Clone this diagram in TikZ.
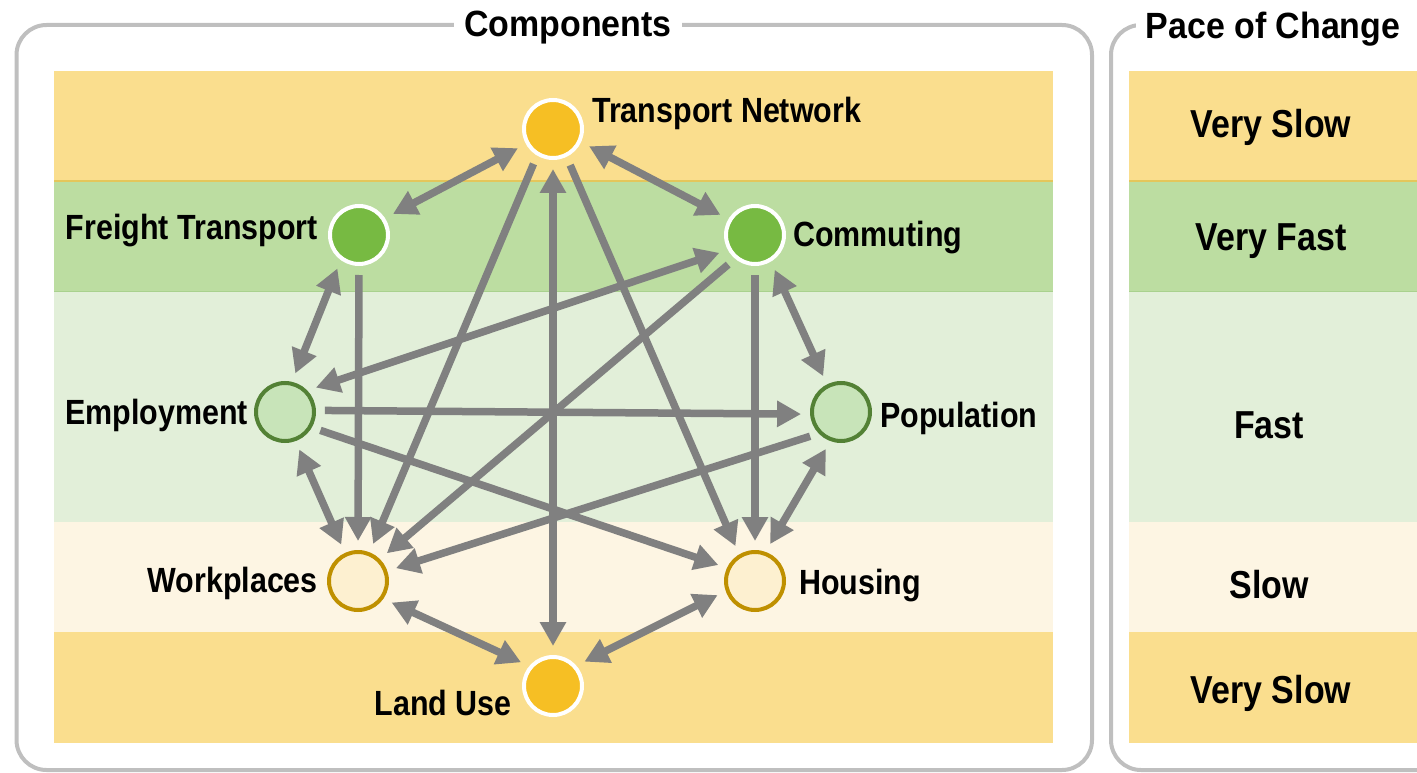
\documentclass[tikz,border=0pt]{standalone}
\usepackage{fontspec}
\setmainfont{Liberation Sans}[FakeStretch=0.87]
\newfontfamily\titlefont{Liberation Sans}[FakeStretch=0.93]
\usetikzlibrary{arrows.meta}
\definecolor{bandyellow}{HTML}{FADE8E}
\definecolor{bandgreen}{HTML}{BCDDA1}
\definecolor{bandlight}{HTML}{E2EFD9}
\definecolor{bandcream}{HTML}{FDF5E3}
\definecolor{lineyellow}{HTML}{E4C65B}
\definecolor{linegreen}{HTML}{A9D18E}
\definecolor{boxgray}{HTML}{BFBFBF}
\definecolor{arrowgray}{HTML}{808080}
\definecolor{goldfill}{HTML}{F6BF24}
\definecolor{greenfill}{HTML}{77BA42}
\definecolor{lgfill}{HTML}{C8E4B9}
\definecolor{darkgreen}{HTML}{538135}
\definecolor{creamfill}{HTML}{FDF0D0}
\definecolor{darkgold}{HTML}{BF9000}
\tikzset{
  circ/.style={circle, minimum size=58pt, inner sep=0pt, line width=4pt},
  yc/.style={circ, fill=goldfill, draw=white},
  gc/.style={circ, fill=greenfill, draw=white},
  lgc/.style={circ, fill=lgfill, draw=darkgreen},
  cc/.style={circ, fill=creamfill, draw=darkgold},
  lbl/.style={inner sep=0pt, font=\fontsize{35}{40}\selectfont\bfseries},
  pace/.style={inner sep=0pt, font=\fontsize{39}{44}\selectfont\bfseries},
  ttl/.style={fill=white, inner xsep=10pt, inner ysep=4pt, font=\titlefont\fontsize{36.5}{42}\selectfont\bfseries},
  frame/.style={draw=boxgray, line width=4pt, rounded corners=30pt},
  conn/.style={draw=arrowgray, line width=7.5pt, shorten <=9pt, shorten >=9pt},
  tipA/.tip={Triangle[length=24pt,width=25pt]},
  bi/.style={conn, tipA-tipA},
  uni/.style={conn, -tipA}
}
\begin{document}
\begin{tikzpicture}[x=1pt,y=-1pt]
\clip (0,0) rectangle (1417,773);
% bands left
\fill[bandyellow] (54,71) rectangle (1053,181);
\fill[bandgreen] (54,181) rectangle (1053,291);
\fill[bandlight] (54,291) rectangle (1053,522);
\fill[bandcream] (54,522) rectangle (1053,632);
\fill[bandyellow] (54,632) rectangle (1053,743);
\draw[lineyellow, line width=1.5pt] (54,181) -- (1053,181);
\draw[linegreen, line width=1pt] (54,291) -- (1053,291);
% bands right
\fill[bandyellow] (1129,71) rectangle (1430,181);
\fill[bandgreen] (1129,181) rectangle (1430,291);
\fill[bandlight] (1129,291) rectangle (1430,522);
\fill[bandcream] (1129,522) rectangle (1430,632);
\fill[bandyellow] (1129,632) rectangle (1430,743);
\draw[lineyellow, line width=1.5pt] (1129,181) -- (1430,181);
\draw[linegreen, line width=1pt] (1129,291) -- (1430,291);
% frames
\draw[frame] (16.5,25) rectangle (1092,770);
\draw[frame] (1170,25) -- (1111,25) -- (1111,770) -- (1470,770);
\node[ttl, anchor=base] (comptitle) at (568,37) {Components};
\node[ttl, anchor=base] (pacetitle) at (1273,39) {Pace of Change};
% pace labels
\node[pace, anchor=base] (p1) at (1271,138) {Very Slow};
\node[pace, anchor=base] (p2) at (1271,250) {Very Fast};
\node[pace, anchor=base] (p3) at (1269,438) {Fast};
\node[pace, anchor=base] (p4) at (1269,598) {Slow};
\node[pace, anchor=base] (p5) at (1271,703) {Very Slow};
% nodes
\node[yc] (tn) at (553,129) {};
\node[gc] (ft) at (359,235) {};
\node[gc] (co) at (755,235) {};
\node[lgc] (em) at (285,412) {};
\node[lgc] (po) at (841,412) {};
\node[cc] (wp) at (358,581) {};
\node[cc] (ho) at (755,581) {};
\node[yc] (lu) at (553,686) {};
% labels
\node[lbl, anchor=base west] (tnl) at (592,123) {Transport Network};
\node[lbl, anchor=base east] (ftl) at (318,240) {Freight Transport};
\node[lbl, anchor=base west] (col) at (793,246) {Commuting};
\node[lbl, anchor=base east] (eml) at (248,424) {Employment};
\node[lbl, anchor=base west] (pol) at (880,427) {Population};
\node[lbl, anchor=base east] (wpl) at (318,592) {Workplaces};
\node[lbl, anchor=base west] (hol) at (799,594) {Housing};
\node[lbl, anchor=base east] (lul) at (512,715) {Land Use};
% connectors
\draw[bi] (tn.209) -- (ft.33);
\draw[bi] (tn.-25) -- (co.149);
\draw[uni] (tn.239) -- (wp.68);
\draw[uni] (tn.-64) -- (ho.121);
\draw[bi] (tn.270) -- (lu.90);
\draw[bi] (ft.234) -- (em.77);
\draw[uni] (ft.270) -- (wp.90);
\draw[bi] (co.-59) -- (po.117);
\draw[uni] (co.270) -- (ho.90);
\draw[uni] (co.230) -- (wp.45);
\draw[bi] (em.44) -- (co.209);
\draw[uni] (em.3) -- (po.184);
\draw[uni] (em.-30) -- (ho.155);
\draw[bi] (em.-70) -- (wp.115);
\draw[uni] (po.224) -- (wp.19);
\draw[bi] (po.250) -- (ho.70);
\draw[bi] (wp.-35) -- (lu.140);
\draw[bi] (ho.199) -- (lu.41);
\end{tikzpicture}
\end{document}
